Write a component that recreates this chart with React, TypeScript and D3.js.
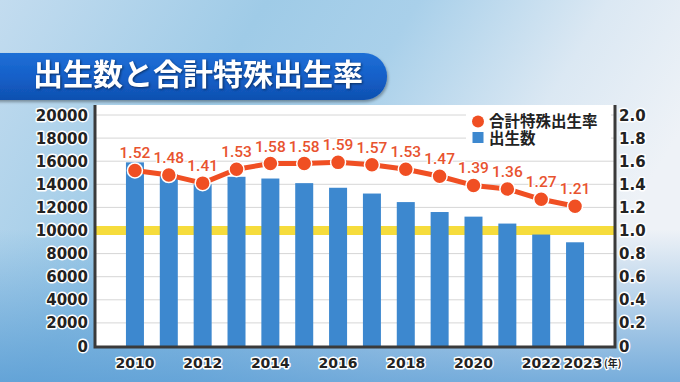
import React from "react";
import * as d3 from "d3";

const years = [2010, 2011, 2012, 2013, 2014, 2015, 2016, 2017, 2018, 2019, 2020, 2021, 2022, 2023];
const births = [15900, 14850, 14000, 14650, 14500, 14100, 13700, 13200, 12460, 11600, 11200, 10600, 9650, 8980];
const tfr = [1.52, 1.48, 1.41, 1.53, 1.58, 1.58, 1.59, 1.57, 1.53, 1.47, 1.39, 1.36, 1.27, 1.21];
const leftTicks = [0, 2000, 4000, 6000, 8000, 10000, 12000, 14000, 16000, 18000, 20000];
const rightTicks = [0, 0.2, 0.4, 0.6, 0.8, 1.0, 1.2, 1.4, 1.6, 1.8, 2.0];
const xLabelYears = [2010, 2012, 2014, 2016, 2018, 2020, 2022, 2023];
const title = "出生数と合計特殊出生率";
const legendRate = "合計特殊出生率";
const legendBirths = "出生数";

const W = 680, H = 382;
const PL = 95, PR = 615, PT = 105, PB = 347;

export default function App() {
  const x = d3.scalePoint<number>().domain(years).range([PL, PR]).padding(1.18);
  const yL = d3.scaleLinear().domain([0, 20000]).range([346, 115]);
  const yR = d3.scaleLinear().domain([0, 2]).range([346, 115]);
  const line = d3.line<number>().x((_, i) => x(years[i])!).y((d) => yR(d));
  const barW = 18;
  const num = "'DejaVu Sans', sans-serif";
  const cjk = "'Noto Sans CJK JP', sans-serif";
  const red = "#f04f23";
  const blue = "#3d88cf";

  return (
    <svg width={W} height={H} style={{ position: "absolute", left: 0, top: 0, display: "block" }}>
      <defs>
        <linearGradient id="bg" x1="0" y1="0" x2="1" y2="0.35">
          <stop offset="0" stopColor="#c3dcef" />
          <stop offset="0.35" stopColor="#9fcbe7" />
          <stop offset="0.55" stopColor="#a9d0ea" />
          <stop offset="0.8" stopColor="#dbe8f3" />
          <stop offset="1" stopColor="#eef2f7" />
        </linearGradient>
        <linearGradient id="bg2" x1="0" y1="0" x2="0" y2="1">
          <stop offset="0.6" stopColor="#4f96d2" stopOpacity="0" />
          <stop offset="1" stopColor="#4f96d2" stopOpacity="0.75" />
        </linearGradient>
        <linearGradient id="ban" x1="0" y1="0" x2="0" y2="1">
          <stop offset="0" stopColor="#1f6fd6" />
          <stop offset="0.5" stopColor="#1560c9" />
          <stop offset="1" stopColor="#0f50b0" />
        </linearGradient>
        <filter id="sh" x="-5%" y="-20%" width="110%" height="150%">
          <feDropShadow dx="1" dy="2" stdDeviation="1.5" floodColor="#000" floodOpacity="0.35" />
        </filter>
      </defs>
      <rect x={0} y={0} width={W} height={H} fill="url(#bg)" />
      <rect x={0} y={0} width={W} height={H} fill="url(#bg2)" />

      {/* Title banner */}
      <rect x={-30} y={53} width={417} height={47} rx={23} fill="url(#ban)" filter="url(#sh)" />
      <text x={33} y={85} fill="#fff" fontFamily={cjk} fontWeight={700}
        fontSize={30} style={{ filter: "drop-shadow(1px 1px 1px rgba(0,0,0,0.5))" }}>{title}</text>

      {/* Plot area */}
      <rect x={PL} y={PT} width={PR - PL} height={PB - PT} fill="#fff" />
      {leftTicks.filter((t) => t > 0).map((t) => (
        <line key={t} x1={PL} x2={PR} y1={yL(t)} y2={yL(t)} stroke="#d6d6d6" strokeWidth={1} />
      ))}
      <rect x={PL} y={yL(10000) - 4.5} width={PR - PL} height={9} fill="#f6dc3c" />
      {births.map((b, i) => (
        <rect key={years[i]} x={x(years[i])! - barW / 2} y={yL(b)} width={barW} height={yL(0) - yL(b) + 1} fill={blue} />
      ))}
      <path d={line(tfr)!} fill="none" stroke={red} strokeWidth={5} strokeLinejoin="round" />
      {tfr.map((v, i) => (
        <circle key={years[i]} cx={x(years[i])!} cy={yR(v)} r={7.5} fill={red} stroke="#fff" strokeWidth={1.5} />
      ))}
      {tfr.map((v, i) => (
        <text key={years[i]} x={x(years[i])!} y={yR(v) - 12} textAnchor="middle"
          fontFamily="Roboto, sans-serif" fontWeight={500} fontSize={15.5} fill="#e8532f"
          stroke="#fff" strokeWidth={2.5} paintOrder="stroke">{v.toFixed(2)}</text>
      ))}
      <path d={`M${PL},${PT} V${PB} H${PR} V${PT}`} fill="none" stroke="#3a3a3a" strokeWidth={3} />

      {/* Legend */}
      <rect x={466} y={109} width={145} height={40} fill="#fff" />
      <circle cx={478} cy={121.5} r={6} fill={red} />
      <text x={489} y={127} fontFamily={cjk} fontWeight={700} fontSize={15.5} fill="#222">{legendRate}</text>
      <rect x={472.5} y={132} width={11} height={11} fill={blue} />
      <text x={489} y={143.5} fontFamily={cjk} fontWeight={700} fontSize={15.5} fill="#222">{legendBirths}</text>

      {/* Left axis labels */}
      {leftTicks.map((t) => (
        <text key={t} x={88} y={yL(t) + 5.5} textAnchor="end" fontFamily={num} fontWeight={700}
          fontSize={15} fill="#222" stroke="#fff" strokeWidth={3} paintOrder="stroke" strokeLinejoin="round">{t}</text>
      ))}
      {/* Right axis labels */}
      {rightTicks.map((t) => (
        <text key={t} x={619} y={yR(t) + 5.5} textAnchor="start" fontFamily={num} fontWeight={700}
          fontSize={15} fill="#222" stroke="#fff" strokeWidth={3} paintOrder="stroke" strokeLinejoin="round">{t === 0 ? "0" : t.toFixed(1)}</text>
      ))}
      {/* X labels */}
      {xLabelYears.map((yv) => (
        <text key={yv} x={x(yv)! + (yv === 2023 ? 8 : 0)} y={368} textAnchor="middle" fontFamily={num} fontWeight={700}
          fontSize={14} fill="#222" stroke="#fff" strokeWidth={3} paintOrder="stroke" strokeLinejoin="round">{yv}</text>
      ))}
      <text x={x(2023)! + 29} y={367} fontFamily={cjk} fontWeight={700} fontSize={10}
        fill="#222" stroke="#fff" strokeWidth={2.5} paintOrder="stroke">(年)</text>
    </svg>
  );
}
